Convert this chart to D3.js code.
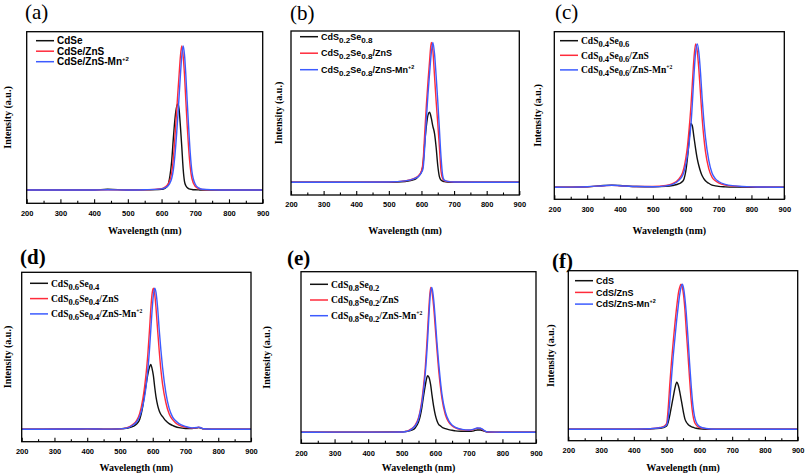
<!DOCTYPE html>
<html><head><meta charset="utf-8">
<script src="https://cdn.jsdelivr.net/npm/d3@7"></script>
<style>body{margin:0;background:#fff}svg{display:block}</style>
</head><body><svg id="c" width="805" height="474"></svg>
<script>
// ---------------- DATA ----------------
const xTicks = [200, 300, 400, 500, 600, 700, 800, 900];
const xMinorTicks = [250, 350, 450, 550, 650, 750, 850];
const xTitle = "Wavelength (nm)";
const yTitle = "Intensity (a.u.)";
const panelLabels = ["(a)", "(b)", "(c)", "(d)", "(e)", "(f)"];

// panel (a)
const wlA = [200,300,400,440,500,550,600,610,615,620,625,630,635,640,645,649,652,656,660,664,668,672,676,680,685,690,700,710,720,750,800,900];
const blackA = [0,0,0,0.006,0,0.001,0.005,0.012,0.02,0.04,0.1,0.2,0.36,0.5,0.58,0.6,0.56,0.44,0.3,0.15,0.06,0.03,0.018,0.01,0.006,0.004,0.002,0.001,0,0,0,0];
const redA   = [0,0,0,0.002,0,0.002,0.01,0.02,0.03,0.045,0.07,0.12,0.22,0.38,0.56,0.7,0.8,0.93,1.0,0.93,0.8,0.62,0.45,0.3,0.16,0.08,0.025,0.01,0.004,0.001,0,0];
const blueA  = [0,0,0,0.002,0,0.002,0.008,0.015,0.022,0.032,0.05,0.08,0.14,0.25,0.4,0.54,0.65,0.8,0.93,1.0,0.94,0.8,0.62,0.45,0.26,0.13,0.04,0.015,0.006,0.002,0,0];
const namesA = ["CdSe", "CdSe/ZnS", "CdSe/ZnS-Mn^{+2}"];

// panel (b)
const wlB = [200,300,400,500,550,580,590,600,605,610,615,620,625,630,635,640,645,650,655,660,665,670,680,700,800,900];
const blackB = [0,0,0,0,0.005,0.02,0.04,0.075,0.13,0.28,0.4,0.48,0.5,0.46,0.4,0.35,0.25,0.12,0.04,0.015,0.008,0.005,0.002,0,0,0];
const redB   = [0,0,0,0.002,0.01,0.03,0.045,0.08,0.15,0.35,0.55,0.72,0.87,1.0,0.94,0.76,0.58,0.42,0.25,0.08,0.025,0.012,0.005,0.002,0,0];
const blueB  = [0,0,0,0.002,0.01,0.028,0.04,0.07,0.1,0.25,0.45,0.63,0.78,0.92,1.0,0.92,0.76,0.58,0.38,0.18,0.05,0.015,0.006,0.002,0,0];
const namesB = ["CdS_{0.2}Se_{0.8}", "CdS_{0.2}Se_{0.8}/ZnS", "CdS_{0.2}Se_{0.8}/ZnS-Mn^{+2}"];

// panel (c)
const wlC = [200,250,300,350,375,400,450,500,540,560,580,590,595,600,605,610,613,616,620,625,630,635,640,645,650,655,660,670,680,690,700,720,750,800,900];
const blackC = [0,0.001,0.004,0.012,0.015,0.012,0.005,0.003,0.006,0.012,0.025,0.04,0.06,0.11,0.2,0.32,0.4,0.445,0.43,0.35,0.27,0.2,0.15,0.11,0.08,0.06,0.045,0.028,0.015,0.01,0.006,0.003,0.001,0,0];
const redC   = [0,0.001,0.004,0.01,0.013,0.01,0.005,0.005,0.012,0.025,0.06,0.1,0.14,0.2,0.28,0.4,0.48,0.57,0.72,0.9,1.0,0.95,0.82,0.65,0.48,0.35,0.25,0.13,0.07,0.045,0.03,0.015,0.008,0.003,0];
const blueC  = [0,0.001,0.004,0.011,0.014,0.011,0.005,0.004,0.01,0.02,0.05,0.08,0.11,0.16,0.22,0.3,0.37,0.44,0.58,0.78,0.94,1.0,0.94,0.8,0.62,0.47,0.35,0.19,0.1,0.06,0.04,0.02,0.01,0.003,0];
const namesC = ["CdS_{0.4}Se_{0.6}", "CdS_{0.4}Se_{0.6}/ZnS", "CdS_{0.4}Se_{0.6}/ZnS-Mn^{+2}"];

// panel (d)
const wlD = [200,350,400,450,500,520,540,550,560,570,575,580,585,590,594,598,602,606,610,615,620,625,630,640,650,660,670,680,700,720,735,740,745,755,800,900];
const blackD = [0,0.002,0.003,0.001,0.003,0.007,0.02,0.035,0.07,0.17,0.25,0.32,0.39,0.44,0.46,0.43,0.38,0.3,0.23,0.17,0.13,0.105,0.09,0.06,0.04,0.028,0.018,0.012,0.006,0.005,0.01,0.012,0.01,0.003,0,0];
const redD   = [0,0.002,0.003,0.001,0.003,0.01,0.035,0.06,0.11,0.22,0.3,0.4,0.53,0.7,0.85,0.96,1.0,0.96,0.86,0.7,0.55,0.42,0.32,0.19,0.11,0.07,0.045,0.03,0.015,0.008,0.012,0.014,0.012,0.003,0,0];
const blueD  = [0,0.002,0.003,0.001,0.003,0.008,0.03,0.05,0.09,0.17,0.23,0.31,0.42,0.56,0.7,0.84,0.95,1.0,0.97,0.86,0.7,0.56,0.44,0.26,0.15,0.09,0.06,0.04,0.02,0.01,0.013,0.015,0.013,0.004,0,0];
const namesD = ["CdS_{0.6}Se_{0.4}", "CdS_{0.6}Se_{0.4}/ZnS", "CdS_{0.6}Se_{0.4}/ZnS-Mn^{+2}"];

// panel (e)
const wlE = [200,300,400,500,510,520,530,540,550,555,560,565,570,574,577,581,586,590,595,600,605,610,615,620,630,640,650,660,680,700,715,725,735,745,755,800,900];
const blackE = [0,0.001,0.001,0.003,0.005,0.008,0.015,0.03,0.07,0.11,0.17,0.25,0.32,0.37,0.39,0.38,0.33,0.26,0.18,0.12,0.08,0.055,0.045,0.035,0.025,0.018,0.014,0.01,0.007,0.006,0.01,0.016,0.016,0.008,0.002,0,0];
const redE   = [0,0.001,0.001,0.002,0.005,0.012,0.025,0.05,0.1,0.15,0.22,0.32,0.44,0.58,0.7,0.86,1.0,0.97,0.87,0.72,0.57,0.43,0.32,0.23,0.12,0.07,0.045,0.03,0.018,0.014,0.02,0.028,0.026,0.012,0.002,0,0];
const blueE  = [0,0.001,0.001,0.002,0.004,0.01,0.022,0.045,0.09,0.14,0.2,0.29,0.4,0.52,0.63,0.8,0.97,1.0,0.92,0.78,0.62,0.48,0.36,0.26,0.14,0.08,0.05,0.034,0.02,0.016,0.022,0.03,0.028,0.014,0.003,0,0];
const namesE = ["CdS_{0.8}Se_{0.2}", "CdS_{0.8}Se_{0.2}/ZnS", "CdS_{0.8}Se_{0.2}/ZnS-Mn^{+2}"];

// panel (f)
const wlF = [200,300,400,450,480,490,500,505,510,515,520,525,531,536,540,544,548,552,556,560,565,570,575,580,585,590,600,620,650,700,800,900];
const blackF = [0,0,0,0.002,0.006,0.012,0.022,0.05,0.1,0.16,0.22,0.28,0.324,0.3,0.26,0.21,0.16,0.11,0.07,0.05,0.035,0.025,0.018,0.014,0.01,0.007,0.003,0,0,0,0,0];
const redF   = [0,0,0,0.003,0.012,0.018,0.04,0.15,0.32,0.47,0.6,0.72,0.85,0.94,0.98,1.0,0.98,0.92,0.82,0.68,0.52,0.35,0.2,0.1,0.05,0.03,0.012,0.004,0,0,0,0];
const blueF  = [0,0,0,0.003,0.01,0.015,0.03,0.08,0.2,0.36,0.5,0.62,0.76,0.86,0.93,0.98,1.0,0.97,0.9,0.8,0.64,0.46,0.3,0.17,0.09,0.05,0.02,0.005,0,0,0,0];
const namesF = ["CdS", "CdS/ZnS", "CdS/ZnS-Mn^{+2}"];

const panelData = [
  {wl: wlA, series: [blackA, redA, blueA], names: namesA},
  {wl: wlB, series: [blackB, redB, blueB], names: namesB},
  {wl: wlC, series: [blackC, redC, blueC], names: namesC},
  {wl: wlD, series: [blackD, redD, blueD], names: namesD},
  {wl: wlE, series: [blackE, redE, blueE], names: namesE},
  {wl: wlF, series: [blackF, redF, blueF], names: namesF}
];

// ---------------- LAYOUT / STYLE ----------------
const colors = ["#111111", "#ff2b3b", "#3c5bff"];
const SANS = "'Liberation Sans', Arial, sans-serif";
const SERIF = "'Liberation Serif', 'Times New Roman', serif";
const layout = [
  {x0:26.7, x1:262.7, y0:31.7, y1:203.3, yDom:[-0.092,1.099], lab:[25,19,false], yl:7,  xtY:234, legF:SANS,  legS:10, legX:36,  legY:40.7, legDy:10.5},
  {x0:291,  x1:519.3, y0:31,   y1:195,   yDom:[-0.091,1.081], lab:[290,20,false], yl:278, xtY:234, legF:SANS, legS:9,  legX:300, legY:36.7, legDy:16.5},
  {x0:554.3,x1:784.3, y0:31.7, y1:199.3, yDom:[-0.084,1.086], lab:[555,19,false], yl:537, xtY:234, legF:SERIF,legS:9.5,legX:560, legY:40.7, legDy:14.6},
  {x0:21.7, x1:251,   y0:272.3,y1:441.7, yDom:[-0.088,1.113], lab:[20,264,true],  yl:7,  xtY:471, legF:SERIF,legS:9.5,legX:30,  legY:283.3,legDy:15.3},
  {x0:301,  x1:536,   y0:271.7,y1:443.3, yDom:[-0.076,1.108], lab:[287,265,true], yl:266, xtY:471, legF:SERIF,legS:9.5,legX:310, legY:284.3,legDy:15.7},
  {x0:568.3,x1:797.7, y0:270.7,y1:440.7, yDom:[-0.079,1.094], lab:[552,268,true], yl:550, xtY:471, legF:SANS, legS:9,  legX:575, legY:280.7,legDy:11.7}
];

const svg = d3.select("#c");

function richText(sel, str, size) {
  const parts = str.split(/(_\{[^}]*\}|\^\{[^}]*\})/).filter(s => s.length);
  let off = 0;
  parts.forEach(p => {
    let target = 0, txt = p, fs = null;
    if (p.startsWith("_{")) { target = 3; txt = p.slice(2, -1); fs = size * 0.9; }
    else if (p.startsWith("^{")) { target = -4; txt = p.slice(2, -1); fs = size * 0.6; }
    const t = sel.append("tspan").attr("dy", target - off).text(txt);
    if (fs) t.attr("font-size", fs);
    off = target;
  });
}

panelData.forEach((pd, i) => {
  const L = layout[i];
  const g = svg.append("g");
  const x = d3.scaleLinear().domain([200, 900]).range([L.x0, L.x1]);
  const y = d3.scaleLinear().domain(L.yDom).range([L.y1, L.y0]);

  const line = d3.line().x(d => x(d[0])).y(d => y(d[1])).curve(d3.curveMonotoneX);
  pd.series.forEach((vals, k) => {
    g.append("path")
      .datum(pd.wl.map((w, j) => [w, vals[j]]))
      .attr("d", line)
      .attr("fill", "none")
      .attr("stroke", colors[k])
      .attr("stroke-width", 1.4)
      .attr("stroke-linejoin", "round");
  });

  g.append("rect").attr("x", L.x0).attr("y", L.y0)
    .attr("width", L.x1 - L.x0).attr("height", L.y1 - L.y0)
    .attr("fill", "none").attr("stroke", "#000").attr("stroke-width", 1.3);

  const ax = d3.axisBottom(x).tickValues(xTicks).tickSize(-4).tickPadding(7).tickFormat(d3.format("d"));
  const axG = g.append("g").attr("transform", `translate(0,${L.y1})`).call(ax);
  axG.select(".domain").remove();
  axG.selectAll(".tick line").attr("stroke", "#000").attr("stroke-width", 1.1);
  axG.selectAll(".tick text").attr("font-family", SANS).attr("font-weight", "bold")
     .attr("font-size", 7.5).attr("fill", "#000");
  const axm = d3.axisBottom(x).tickValues(xMinorTicks).tickSize(-2.5).tickFormat("");
  const axmG = g.append("g").attr("transform", `translate(0,${L.y1})`).call(axm);
  axmG.select(".domain").remove();
  axmG.selectAll(".tick line").attr("stroke", "#000").attr("stroke-width", 1.1);

  g.append("text").attr("x", (L.x0 + L.x1) / 2).attr("y", L.xtY)
    .attr("text-anchor", "middle").attr("font-family", SERIF).attr("font-weight", "bold")
    .attr("font-size", 10).text(xTitle);
  g.append("text")
    .attr("transform", `translate(${L.yl},${(L.y0 + L.y1) / 2}) rotate(-90)`)
    .attr("dy", "0.35em")
    .attr("text-anchor", "middle").attr("font-family", SERIF).attr("font-weight", "bold")
    .attr("font-size", 10).text(yTitle);

  g.append("text").attr("x", L.lab[0]).attr("y", L.lab[1])
    .attr("font-family", SERIF).attr("font-weight", L.lab[2] ? "bold" : "normal")
    .attr("font-size", 21).text(panelLabels[i]);

  pd.names.forEach((nm, k) => {
    const ly = L.legY + k * L.legDy;
    g.append("line").attr("x1", L.legX).attr("x2", L.legX + 18)
      .attr("y1", ly).attr("y2", ly).attr("stroke", colors[k]).attr("stroke-width", 1.5);
    const t = g.append("text").attr("x", L.legX + 21).attr("y", ly + L.legS * 0.35)
      .attr("font-family", L.legF).attr("font-weight", "bold").attr("font-size", L.legS);
    richText(t, nm, L.legS);
  });
});
</script>
</body></html>
